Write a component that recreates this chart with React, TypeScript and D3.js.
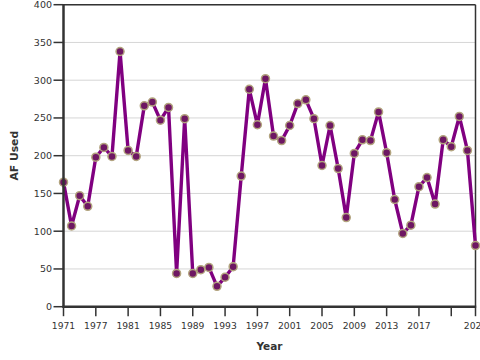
import React from "react";
import * as d3 from "d3";

// AF used per year (index 0 = first point, last = 2024)
const afUsed: number[] = [
  165, 107, 147, 133, 198, 211, 199, 338, 207, 199,
  266, 271, 247, 264, 44, 249, 44, 49, 52, 27,
  39, 53, 173, 288, 241, 302, 226, 220, 240, 269,
  274, 249, 187, 240, 183, 118, 203, 221, 220, 258,
  204, 142, 97, 108, 159, 171, 136, 221, 212, 252,
  207, 81,
];

const xTickIndex: number[] = [0, 4, 8, 12, 16, 20, 24, 28, 32, 36, 40, 44, 48, 51];
const xTickLabels: string[] = [
  "1971", "1977", "1981", "1985", "1989", "1993", "1997",
  "2001", "2005", "2009", "2013", "2017", "", "2024",
];
const yTicks: number[] = [0, 50, 100, 150, 200, 250, 300, 350, 400];

const W = 480;
const H = 360;
const L = 63.5;
const R = 475.5;
const T = 4.7;
const B = 306.7;
const FONT = "'DejaVu Sans', Verdana, sans-serif";

export default function App() {
  const x = d3.scaleLinear().domain([0, afUsed.length - 1]).range([L, R]);
  const y = d3.scaleLinear().domain([0, 400]).range([B, T]);
  const line = d3
    .line<number>()
    .x((_, i) => x(i))
    .y((d) => y(d));

  return (
    <svg
      width={W}
      height={H}
      style={{ position: "fixed", left: 0, top: 0, background: "#fff" }}
    >
      {/* grid */}
      {yTicks.map((t) => (
        <line key={"g" + t} x1={L} x2={R} y1={y(t)} y2={y(t)} stroke="#d6d6d6" strokeWidth={1} />
      ))}
      {/* frame top/right */}
      <line x1={L} x2={R} y1={T} y2={T} stroke="#333" strokeWidth={1.5} />
      <line x1={R} x2={R} y1={T} y2={B} stroke="#333" strokeWidth={1.5} />
      {/* data line */}
      <path d={line(afUsed) || ""} fill="none" stroke="#800080" strokeWidth={3.4} strokeLinejoin="round" />
      {afUsed.map((v, i) => (
        <circle key={"c" + i} cx={x(i)} cy={y(v)} r={4} fill="#6e1763" stroke="#b2a47e" strokeWidth={1.5} />
      ))}
      {/* axes */}
      <line x1={L} x2={L} y1={T - 0.7} y2={B + 1} stroke="#333" strokeWidth={2.5} />
      <line x1={L - 1} x2={R + 0.7} y1={B} y2={B} stroke="#333" strokeWidth={2.5} />
      {yTicks.map((t) => (
        <g key={"y" + t}>
          <line x1={L - 10} x2={L} y1={y(t)} y2={y(t)} stroke="#333" strokeWidth={1.5} />
          <text
            x={L - 11.5}
            y={y(t)}
            dy="0.35em"
            textAnchor="end"
            fontFamily={FONT}
            fontSize={9.5}
            fill="#333"
          >
            {t}
          </text>
        </g>
      ))}
      {xTickIndex.map((ti, k) => (
        <g key={"x" + ti}>
          <line x1={x(ti)} x2={x(ti)} y1={B} y2={B + 9.5} stroke="#333" strokeWidth={1.5} />
          <text
            x={x(ti)}
            y={329}
            textAnchor="middle"
            fontFamily={FONT}
            fontSize={9.2}
            fill="#333"
          >
            {xTickLabels[k]}
          </text>
        </g>
      ))}
      <text
        x={(L + R) / 2}
        y={350}
        textAnchor="middle"
        fontFamily={FONT}
        fontSize={10.5}
        fontWeight="bold"
        fill="#333"
      >
        Year
      </text>
      <text
        transform={`translate(18,${(T + B) / 2}) rotate(-90)`}
        textAnchor="middle"
        fontFamily={FONT}
        fontSize={10.8}
        fontWeight="bold"
        fill="#333"
      >
        AF Used
      </text>
    </svg>
  );
}
